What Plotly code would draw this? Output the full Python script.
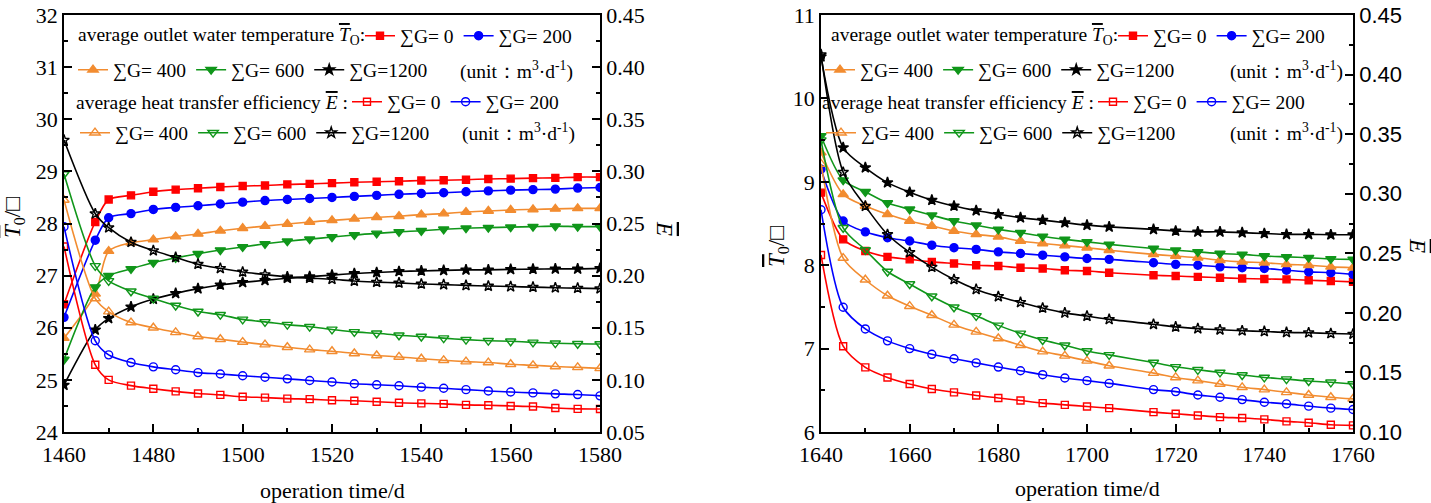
import plotly.graph_objects as go

W, H = 1431, 503
SERIF = "Liberation Serif, Times New Roman, Times, serif"
SANS = "Liberation Sans, Arial, Helvetica, sans-serif"

# ---------------- data: left panel ----------------
x_left = [1460, 1467, 1470, 1475, 1480, 1485, 1490, 1495, 1500, 1505, 1510, 1515, 1520,
          1525, 1530, 1535, 1540, 1545, 1550, 1555, 1560, 1565, 1570, 1575, 1580]

T0_L = [26.45, 28.03, 28.46, 28.54, 28.61, 28.65, 28.675, 28.70, 28.72, 28.73, 28.75, 28.76, 28.775,
        28.79, 28.80, 28.81, 28.825, 28.83, 28.84, 28.855, 28.86, 28.87, 28.875, 28.89, 28.89]
T200_L = [26.2, 27.68, 28.11, 28.19, 28.27, 28.31, 28.34, 28.375, 28.41, 28.44, 28.46, 28.48, 28.50,
          28.52, 28.54, 28.56, 28.575, 28.59, 28.61, 28.625, 28.64, 28.65, 28.66, 28.68, 28.69]
T400_L = [25.8, 26.65, 27.47, 27.63, 27.69, 27.75, 27.80, 27.86, 27.91, 27.95, 27.99, 28.03, 28.06,
          28.09, 28.12, 28.14, 28.17, 28.19, 28.22, 28.24, 28.26, 28.27, 28.28, 28.29, 28.29]
T600_L = [25.39, 26.78, 27.0, 27.13, 27.25, 27.34, 27.42, 27.49, 27.55, 27.61, 27.66, 27.70, 27.74,
          27.78, 27.81, 27.84, 27.86, 27.89, 27.91, 27.92, 27.93, 27.94, 27.95, 27.94, 27.94]
T1200_L = [24.9, 25.96, 26.18, 26.4, 26.55, 26.66, 26.75, 26.82, 26.87, 26.91, 26.95, 26.98, 27.01,
           27.04, 27.06, 27.08, 27.09, 27.10, 27.11, 27.11, 27.12, 27.125, 27.13, 27.13, 27.14]

E0_L = [0.228, 0.1145, 0.100, 0.0945, 0.0915, 0.089, 0.087, 0.0856, 0.0838, 0.083, 0.082, 0.0815, 0.0805,
        0.080, 0.079, 0.078, 0.0775, 0.077, 0.076, 0.0756, 0.075, 0.0744, 0.073, 0.0722, 0.072]
E200_L = [0.247, 0.1375, 0.124, 0.1166, 0.1125, 0.1097, 0.107, 0.1056, 0.104, 0.1025, 0.101, 0.0994, 0.098,
          0.0963, 0.0953, 0.0944, 0.093, 0.092, 0.0906, 0.0894, 0.0884, 0.0875, 0.0866, 0.0859, 0.0847]
E400_L = [0.2725, 0.178, 0.1655, 0.155, 0.15, 0.1456, 0.1416, 0.139, 0.1363, 0.1338, 0.1313, 0.129, 0.1275,
          0.1253, 0.1234, 0.122, 0.1203, 0.1188, 0.1175, 0.1166, 0.115, 0.114, 0.1128, 0.112, 0.111]
E600_L = [0.2975, 0.2094, 0.195, 0.185, 0.178, 0.1713, 0.1656, 0.1625, 0.158, 0.1556, 0.153, 0.151, 0.1484,
          0.146, 0.1447, 0.1428, 0.1416, 0.14, 0.1386, 0.1376, 0.137, 0.136, 0.1352, 0.1346, 0.1344]
E1200_L = [0.33, 0.2594, 0.246, 0.232, 0.224, 0.2175, 0.211, 0.207, 0.2035, 0.201, 0.1988, 0.1976, 0.1965,
           0.1948, 0.1938, 0.193, 0.192, 0.1914, 0.1906, 0.19, 0.1895, 0.189, 0.1884, 0.188, 0.1875]

# ---------------- data: right panel ----------------
x_right = [1640, 1645, 1650, 1655, 1660, 1665, 1670, 1675, 1680, 1685, 1690, 1695, 1700, 1705,
           1715, 1720, 1725, 1730, 1735, 1740, 1745, 1750, 1755, 1760]

T0_R = [8.87, 8.31, 8.17, 8.10, 8.07, 8.04, 8.02, 8.0, 7.99, 7.97, 7.96, 7.94, 7.93, 7.91,
        7.88, 7.87, 7.86, 7.85, 7.84, 7.835, 7.83, 7.82, 7.81, 7.80]
T200_R = [9.15, 8.53, 8.40, 8.33, 8.29, 8.24, 8.21, 8.19, 8.16, 8.14, 8.12, 8.10, 8.08, 8.07,
          8.03, 8.01, 8.0, 7.98, 7.97, 7.96, 7.94, 7.92, 7.91, 7.89]
T400_R = [9.35, 8.85, 8.71, 8.61, 8.53, 8.47, 8.41, 8.37, 8.34, 8.29, 8.26, 8.235, 8.21, 8.18,
          8.13, 8.11, 8.09, 8.06, 8.04, 8.03, 8.01, 8.0, 7.98, 7.97]
T600_R = [9.55, 9.02, 8.88, 8.745, 8.67, 8.60, 8.53, 8.48, 8.43, 8.39, 8.345, 8.31, 8.28, 8.25,
          8.20, 8.18, 8.16, 8.14, 8.13, 8.11, 8.10, 8.09, 8.075, 8.07]
T1200_R = [10.5, 9.41, 9.17, 8.99, 8.875, 8.78, 8.71, 8.655, 8.61, 8.57, 8.54, 8.51, 8.48, 8.46,
           8.43, 8.41, 8.40, 8.40, 8.39, 8.38, 8.37, 8.37, 8.365, 8.365]

E0_R = [0.2486, 0.172, 0.1542, 0.1458, 0.1403, 0.1361, 0.1333, 0.1306, 0.1286, 0.1264, 0.1242, 0.1228,
        0.1214, 0.12, 0.1167, 0.1153, 0.1139, 0.1125, 0.1117, 0.1106, 0.1089, 0.1078, 0.1061, 0.1056]
E200_R = [0.2865, 0.2047, 0.1865, 0.1765, 0.17, 0.1652, 0.1615, 0.158, 0.1545, 0.1514, 0.1481, 0.1453,
          0.1431, 0.1408, 0.1356, 0.1339, 0.1311, 0.1292, 0.1272, 0.125, 0.1236, 0.1217, 0.12, 0.1189]
E400_R = [0.325, 0.246, 0.2278, 0.2144, 0.2056, 0.198, 0.1899, 0.184, 0.1785, 0.1728, 0.1675, 0.1639,
          0.1597, 0.1556, 0.1494, 0.1458, 0.1431, 0.1403, 0.1375, 0.1356, 0.1333, 0.1311, 0.1292, 0.1278]
E600_R = [0.345, 0.2714, 0.2528, 0.2347, 0.2242, 0.2139, 0.2047, 0.1975, 0.1895, 0.1828, 0.1772, 0.1728,
          0.168, 0.1647, 0.1583, 0.1547, 0.1522, 0.15, 0.1478, 0.1458, 0.1444, 0.1428, 0.1417, 0.1403]
E1200_R = [0.4167, 0.318, 0.2896, 0.2658, 0.2507, 0.2384, 0.228, 0.2197, 0.2137, 0.2088, 0.2041, 0.20,
           0.1973, 0.1945, 0.1904, 0.1882, 0.1868, 0.1858, 0.185, 0.1844, 0.1836, 0.1833, 0.1827, 0.1822]

series_labels = ["∑G= 0", "∑G= 200", "∑G= 400", "∑G= 600", "∑G=1200"]
header_T = "average outlet water temperature <i><span style='text-decoration:overline'>T</span></i><sub>O</sub>:"
header_E = "average heat transfer efficiency <i><span style='text-decoration:overline'>E</span></i> :"
unit_text = "(unit：m<sup>3</sup>·d<sup>-1</sup>)"
x_title = "operation time/d"
yT_title = "<i><span style='text-decoration:overline'>T</span></i><sub>0</sub>/□"
yE_title = "<i><span style='text-decoration:overline'>E</span></i>"

# ---------------- styles ----------------
colors = ["#FF0000", "#0000FF", "#F28C30", "#10961A", "#000000"]
filled_symbols = ["square", "circle", "triangle-up", "triangle-down", "star"]
open_symbols = ["square-open", "circle-open", "triangle-up-open", "triangle-down-open", "star-open"]
msize = [7, 8, 9, 9, 8]

fig = go.Figure()


def add_series(xv, ys, symbols, xa, ya, legends):
    for i in range(5):
        lg = legends[0] if i < 2 else legends[1]
        fig.add_trace(go.Scatter(
            x=xv, y=ys[i], xaxis=xa, yaxis=ya, mode="lines+markers", name=series_labels[i],
            legend=lg,
            line=dict(color=colors[i], width=1.6, shape="spline", smoothing=0.8),
            marker=dict(symbol=symbols[i], size=msize[i], color=colors[i],
                        line=dict(width=1.4, color=colors[i])),
        ))


add_series(x_left, [T0_L, T200_L, T400_L, T600_L, T1200_L], filled_symbols, "x", "y", ["legend", "legend2"])
add_series(x_left, [E0_L, E200_L, E400_L, E600_L, E1200_L], open_symbols, "x", "y2", ["legend3", "legend4"])
add_series(x_right, [T0_R, T200_R, T400_R, T600_R, T1200_R], filled_symbols, "x2", "y3", ["legend5", "legend6"])
add_series(x_right, [E0_R, E200_R, E400_R, E600_R, E1200_R], open_symbols, "x2", "y4", ["legend7", "legend8"])


# ---------------- layout (positions given in window pixels) ----------------
def px(sx):
    return sx / W


def py(sy):
    return 1 - sy / H


TOP, BOT = 15, 432
ydom = [py(BOT), py(TOP)]
xdom1 = [px(64), px(600)]
xdom2 = [px(821), px(1353)]

TICK = 22
LEGF = 19.5
tickfont = dict(family=SERIF, size=TICK, color="black")
axis_common = dict(showline=True, linecolor="black", linewidth=1.5, ticks="inside", ticklen=8,
                   tickwidth=1.5, tickcolor="black", showgrid=False, zeroline=False,
                   tickfont=tickfont, automargin=False)


def minor(d):
    return dict(ticks="inside", ticklen=4, tickwidth=1.5, tickcolor="black", dtick=d, showgrid=False)


def leg(sx, sy):
    return dict(x=px(sx), y=py(sy), xref="paper", yref="paper", xanchor="left", yanchor="middle",
                orientation="h", bgcolor="rgba(0,0,0,0)", borderwidth=0,
                font=dict(family=SERIF, size=LEGF, color="black"), itemwidth=30, tracegroupgap=0)


fig.update_layout(
    width=W, height=H, margin=dict(l=0, r=0, t=0, b=0, pad=0, autoexpand=False),
    paper_bgcolor="white", plot_bgcolor="white", showlegend=True,
    font=dict(family=SERIF, color="black"),
    xaxis=dict(axis_common, domain=xdom1, anchor="y", range=[1460, 1580], tick0=1460, dtick=20,
               mirror=True, minor=minor(10), ticklabelstandoff=2),
    yaxis=dict(axis_common, domain=ydom, anchor="x", range=[24, 32], dtick=1, minor=minor(0.5)),
    yaxis2=dict(axis_common, overlaying="y", side="right", anchor="x", range=[0.05, 0.45], dtick=0.05,
                tick0=0.05, tickformat=".2f", minor=minor(0.025)),
    xaxis2=dict(axis_common, domain=xdom2, anchor="y3", range=[1640, 1760], tick0=1640, dtick=20,
                mirror=True, minor=minor(10), ticklabelstandoff=2),
    yaxis3=dict(axis_common, domain=ydom, anchor="x2", range=[6, 11], dtick=1, minor=minor(0.5)),
    yaxis4=dict(axis_common, overlaying="y3", side="right", anchor="x2", range=[0.10, 0.45], dtick=0.05,
                tick0=0.10, tickformat=".2f", minor=minor(0.025),
                tickfont=dict(family=SANS, size=TICK, color="black")),
    legend=leg(360, 36), legend2=leg(73, 70), legend3=leg(347, 102), legend4=leg(75, 133),
    legend5=leg(1113, 36), legend6=leg(820, 70), legend7=leg(1093, 102), legend8=leg(821, 133),
)

ann = []


def text(sx, sy, s, size=LEGF, xanchor="left", angle=0, family=SERIF):
    ann.append(dict(x=px(sx), y=py(sy), xref="paper", yref="paper", text=s, showarrow=False,
                    xanchor=xanchor, yanchor="middle", textangle=angle,
                    font=dict(family=family, size=size, color="black")))


# legend headers
text(76, 36, header_T)
text(74, 102, header_E)
text(829, 36, header_T)
text(820, 102, header_E)
# units
text(458, 70, unit_text)
text(460, 133, unit_text)
text(1228, 70, unit_text)
text(1228, 133, unit_text)
# axis titles
text(332, 490, x_title, size=22, xanchor="center")
text(1087, 488, x_title, size=22, xanchor="center")
text(14, 218, yT_title, size=23, xanchor="center", angle=-90)
text(778, 247, yT_title, size=23, xanchor="center", angle=-90)
text(665, 228, yE_title, size=23, xanchor="center", angle=90)
text(1418, 245, yE_title, size=23, xanchor="center", angle=90)

fig.update_layout(annotations=ann)
# remove the browser's default 8px page margin so the figure fills the window exactly
fig.write_html("out.html", config={"displayModeBar": False},
               post_script="document.body.style.margin='0';document.body.style.overflow='hidden';")
